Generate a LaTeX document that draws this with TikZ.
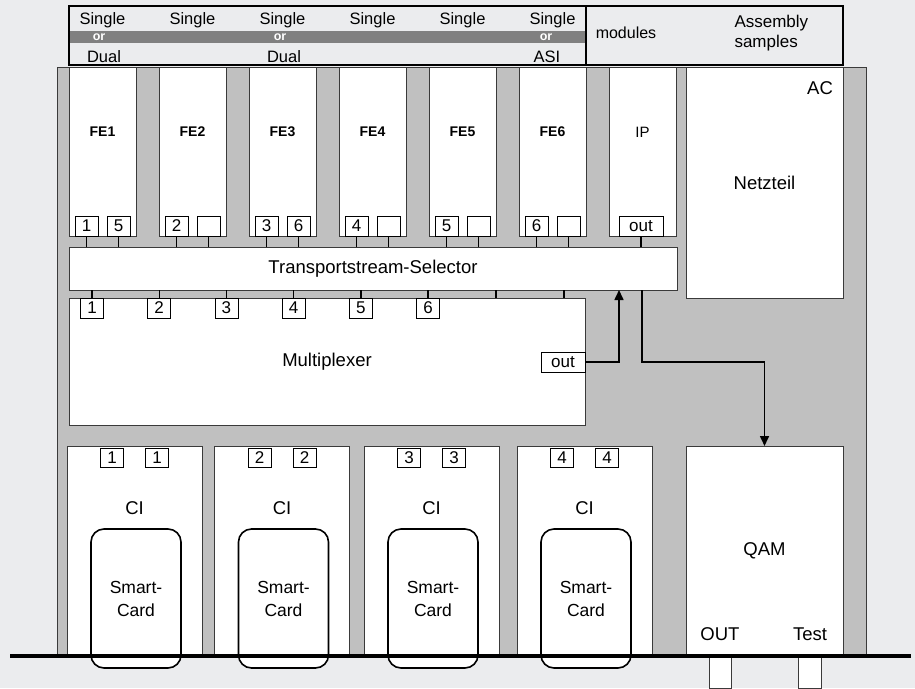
\documentclass[tikz,border=0pt]{standalone}
\usepackage{fontspec}
\setmainfont{Liberation Sans}
\usetikzlibrary{arrows.meta, positioning, calc}
\definecolor{bggray}{HTML}{EBECEE}
\definecolor{rack}{HTML}{C0C0C0}
\definecolor{band}{HTML}{808080}
\definecolor{edge}{HTML}{3A3A3A}

\begin{document}
\begin{tikzpicture}[x=1pt, y=-1pt,
  >={Triangle[length=10pt, width=9pt]},
  slot/.style 2 args={
    draw=edge, line width=1pt, fill=white, inner sep=0pt, outer sep=0pt,
    minimum width=#1, minimum height=#2
  },
  topbox/.style 2 args={
    draw=black, line width=2pt, inner sep=0pt, outer sep=0pt,
    minimum width=#1, minimum height=#2
  },
  port/.style={draw=black, line width=0.8pt, fill=white, inner sep=0pt,
    outer sep=0pt, minimum width=23pt, minimum height=20pt,
    font=\fontsize{17}{17}\selectfont},
  lbl/.style={font=\fontsize{18.5}{21}\selectfont, align=center},
  felbl/.style={font=\fontsize{14}{14}\selectfont\bfseries},
  toplbl/.style={font=\fontsize{16.5}{16.5}\selectfont},
  orlbl/.style={font=\fontsize{12.5}{12.5}\selectfont\bfseries, text=white},
  card/.style={draw=black, line width=1.6pt, fill=white, rounded corners=13pt,
    minimum width=90pt, minimum height=139pt, inner sep=0pt, align=center,
    font=\fontsize{17.5}{23}\selectfont},
  link/.style={line width=1.4pt},
  arr/.style={->, line width=1.6pt},
]

% Background
\fill[bggray] (0,0) rectangle (915,688);
\useasboundingbox (0,0) rectangle (915,688);

% Rack frame
\filldraw[fill=rack, draw=edge, line width=0.8pt] (57,67) rectangle (866,656);

% =============================================
% Assembly table (top)
% =============================================
\fill[band] (69,31) rectangle (586,43);
\node[topbox={517pt}{59pt}] (variants) at (327.5,35.5) {};
\node[topbox={257pt}{59pt}] (legend) at (714.5,35.5) {};

\foreach \x [count=\i] in {102.5,192.5,282.5,372.5,462.5,552.5}
  \node[toplbl] (single\i) at (\x,20) {Single};
\node[orlbl] (or1) at (99,37) {or};
\node[orlbl] (or2) at (280,37) {or};
\node[orlbl] (or3) at (546,37) {or};
\node[toplbl] (dual1) at (104,57) {Dual};
\node[toplbl] (dual2) at (284,57) {Dual};
\node[toplbl] (asi) at (547,57) {ASI};

\node[font=\fontsize{16}{16}\selectfont] (modules) at (626,33) {modules};
\node[font=\fontsize{17}{20}\selectfont, align=left, anchor=west] (samples)
  at (731,33) {Assembly\\samples};

% =============================================
% Frontends and IP
% =============================================
\foreach \i/\a/\b in {1/1/5, 2/2/{}, 3/3/6, 4/4/{}, 5/5/{}, 6/6/{}} {
  \node[slot={67pt}{169pt}] (fe\i) at ({12.5+90*\i},151.5) {};
  \node[felbl] (fel\i) at ({12.5+90*\i},132) {FE\i};
  \node[port, anchor=south west] (fa\i) at ([xshift=6pt]fe\i.south west) {\a};
  \node[port, anchor=south east] (fb\i) at ([xshift=-6pt]fe\i.south east) {\b};
}
\node[slot={67pt}{169pt}] (ip) at (642.5,151.5) {};
\node[font=\fontsize{15}{15}\selectfont] (ipl) at (642.5,132) {IP};
\node[port, minimum width=44pt, anchor=south] (ipout) at ([xshift=-1.5pt]ip.south) {out};

% Transportstream selector
\node[slot={608pt}{43pt}, font=\fontsize{18.5}{18.5}\selectfont] (ts) at (373,268.5)
  {Transportstream-Selector};

\foreach \i in {1,...,6} {
  \draw[link] (fa\i.south) -- (fa\i.south |- ts.north);
  \draw[link] (fb\i.south) -- (fb\i.south |- ts.north);
}
\draw[link] (ipout.south) -- (ipout.south |- ts.north);

% =============================================
% Multiplexer
% =============================================
\node[slot={516pt}{127pt}, lbl] (mux) at (327,361.5) {Multiplexer};
\foreach \i in {1,...,6} {
  \node[port, anchor=north] (mp\i) at ({92+67.2*(\i-1)},298) {\i};
  \draw[link] (mp\i.north) -- (mp\i.north |- ts.south);
}
\foreach \x [count=\k] in {496,564} {
  \coordinate (mx\k) at (\x,298);
  \draw[link] (mx\k) -- (mx\k |- ts.south);
}
\node[port, minimum width=44pt, anchor=east] (mout) at (585,362) {out};

% Power supply
\node[slot={157pt}{231pt}, lbl] (psu) at (764.5,182.5) {Netzteil};
\node[lbl] (ac) at (820,88) {AC};

% QAM
\node[slot={157pt}{209pt}, lbl] (qam) at (764.5,550.5) {QAM};
\node[lbl] (qout) at (720,634) {OUT};
\node[lbl] (qtest) at (810,634) {Test};

% Arrows
\coordinate (tsin) at (619,290);
\coordinate (tsout) at (642,290);
\draw[arr] (mout.east) -| (tsin);
\draw[arr] (tsout) |- (qam.north |- mout.east) -- (qam.north);

% =============================================
% CI slots
% =============================================
\foreach \x/\n in {134.5/1, 282/2, 431.5/3, 584.5/4} {
  \node[slot={135pt}{209pt}] (ci\n) at (\x,550.5) {};
  \node[port, minimum height=19pt, anchor=north] (ca\n) at ([xshift=-22.5pt, yshift=-2pt]ci\n.north) {\n};
  \node[port, minimum height=19pt, anchor=north] (cb\n) at ([xshift=22.5pt, yshift=-2pt]ci\n.north) {\n};
  \node[lbl] (cil\n) at (\x,508) {CI};
  \node[card] (sc\n) at ({\x+1.5},598.5) {Smart-\\Card};
}

% Output sockets
\node[slot={22pt}{32pt}, anchor=north] (jout) at (720,656) {};
\node[slot={23pt}{32pt}, anchor=north] (jtest) at (809.5,656) {};

% Base line
\coordinate (bl) at (10,656);
\coordinate (br) at (911,656);
\draw[line width=4pt] (bl) -- (br);

\end{tikzpicture}
\end{document}
